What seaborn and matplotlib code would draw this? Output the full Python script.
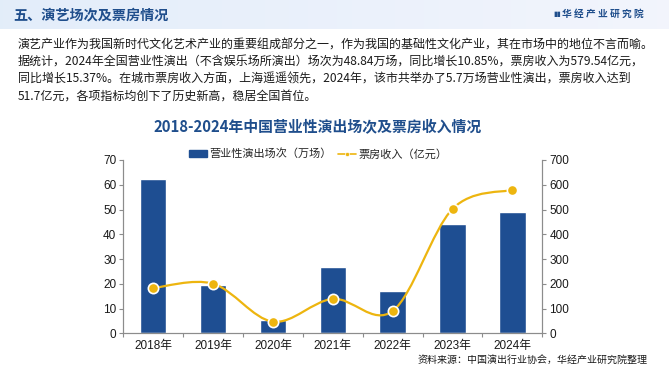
import numpy as np
import pandas as pd
import matplotlib
matplotlib.use("Agg")
import matplotlib.pyplot as plt
from matplotlib.path import Path
from matplotlib.patches import PathPatch, Patch
from matplotlib.lines import Line2D
import seaborn as sns

# ---- data ----
years = ["2018年", "2019年", "2020年", "2021年", "2022年", "2023年", "2024年"]
shows = [62.2, 19.4, 5.4, 26.7, 17.1, 44.06, 48.84]          # 万场
revenue = [183.0, 200.4, 47.0, 139.0, 90.0, 502.3, 579.54]    # 亿元
left_ticks = [0, 10, 20, 30, 40, 50, 60, 70]
right_ticks = [0, 100, 200, 300, 400, 500, 600, 700]

header = "五、演艺场次及票房情况"
logo = "华 经 产 业 研 究 院"
para = [
    "演艺产业作为我国新时代文化艺术产业的重要组成部分之一，作为我国的基础性文化产业，其在市场中的地位不言而喻。",
    "据统计，2024年全国营业性演出（不含娱乐场所演出）场次为48.84万场，同比增长10.85%，票房收入为579.54亿元，",
    "同比增长15.37%。在城市票房收入方面，上海遥遥领先，2024年，该市共举办了5.7万场营业性演出，票房收入达到",
    "51.7亿元，各项指标均创下了历史新高，稳居全国首位。",
]
title = "2018-2024年中国营业性演出场次及票房收入情况"
bar_label = "营业性演出场次（万场）"
line_label = "票房收入（亿元）"
source = "资料来源：中国演出行业协会，华经产业研究院整理"

BLUE = "#1E4E92"
GOLD = "#EDB50F"
DARK = "#1F4E8C"

sns.set_theme(style="white")
plt.rcParams["font.family"] = ["Noto Sans CJK SC", "DejaVu Sans"]
num_font = ["Liberation Sans", "Noto Sans CJK SC"]

W, H = 669, 368
fig = plt.figure(figsize=(W / 100, H / 100), dpi=100)
fig.patch.set_facecolor("white")

# header band
hax = fig.add_axes([0, 1 - 29 / H, 1, 29 / H])
grad = np.linspace(0, 1, 256)[None, :]
c0 = np.array([0.89, 0.93, 0.98])
c1 = np.array([0.95, 0.96, 0.99])
img = c0[None, None, :] * (1 - grad[..., None]) + c1[None, None, :] * grad[..., None]
hax.imshow(img, aspect="auto", extent=[0, 1, 0, 1])
hax.set_axis_off()
fig.text(13 / W, 1 - 15 / H, header, fontsize=10.2, fontweight="bold", color=DARK,
         va="center", ha="left")
fig.text(562 / W, 1 - 14 / H, logo, fontsize=7, fontweight="bold", color=DARK,
         va="center", ha="left")
fig.text(553 / W, 1 - 14 / H, "▮▮", fontsize=5, color=DARK, va="center", ha="left",
         family=["DejaVu Sans"])

# paragraph
for i, line in enumerate(para):
    fig.text(18 / W, 1 - (45 + i * 17) / H, line, fontsize=8.65, color="#1a1a1a",
             va="center", ha="left")

# chart title
fig.text(318 / W, 1 - 127 / H, title, fontsize=10.7, fontweight="bold", color=DARK,
         ha="center", va="center")

# axes
ax = fig.add_axes([123.3 / W, 1 - 333.3 / H, (542.3 - 123.3) / W, (333.3 - 160) / H])
df = pd.DataFrame({"year": years, "shows": shows, "revenue": revenue})
sns.barplot(data=df, x="year", y="shows", ax=ax, color=BLUE, width=0.44,
            saturation=1)
ax.set_xlim(-0.5, len(years) - 0.5)
ax.set_ylim(0, 70)
ax.set_yticks(left_ticks)
ax.set_xlabel("")
ax.set_ylabel("")
ax.set_facecolor("none")

ax2 = ax.twinx()
ax2.set_ylim(0, 700)
ax2.set_yticks(right_ticks)

# smooth line (Catmull-Rom bezier through the data points)
xs = np.arange(len(revenue), dtype=float)
ys = np.array(revenue, dtype=float)
pts = np.column_stack([xs, ys])
verts = [tuple(pts[0])]
codes = [Path.MOVETO]
for i in range(len(pts) - 1):
    p0 = pts[i - 1] if i > 0 else pts[i]
    p1 = pts[i]
    p2 = pts[i + 1]
    p3 = pts[i + 2] if i + 2 < len(pts) else pts[i + 1]
    c1p = p1 + (p2 - p0) / 6.0
    c2p = p2 - (p3 - p1) / 6.0
    verts += [tuple(c1p), tuple(c2p), tuple(p2)]
    codes += [Path.CURVE4] * 3
ax2.add_patch(PathPatch(Path(verts, codes), facecolor="none", edgecolor=GOLD, lw=1.6,
                        zorder=3))
sns.scatterplot(x=xs, y=ys, ax=ax2, color=GOLD, s=55, edgecolor="white", linewidth=1.2,
                zorder=4, legend=False)

# styling
for a in (ax, ax2):
    a.spines["top"].set_visible(False)
    for s in ("left", "right", "bottom"):
        a.spines[s].set_color("#8c8c8c")
        a.spines[s].set_linewidth(0.8)
ax.tick_params(axis="y", which="both", direction="out", length=3, width=0.8,
               color="#8c8c8c", labelsize=8.5, pad=2, left=True)
ax2.tick_params(axis="y", which="both", direction="out", length=3, width=0.8,
                color="#8c8c8c", labelsize=8.5, pad=2, right=True)
ax.set_xticks(np.arange(len(years)))
ax.set_xticklabels(years)
ax.tick_params(axis="x", length=0, labelsize=8.5, pad=5)
ax.set_xticks(np.arange(len(years) + 1) - 0.5, minor=True)
ax.tick_params(axis="x", which="minor", direction="out", length=3, width=0.8,
               color="#8c8c8c", bottom=True)
for lab in ax.get_xticklabels() + ax.get_yticklabels() + ax2.get_yticklabels():
    lab.set_family(num_font)
    lab.set_color("#1a1a1a")
ax2.set_ylabel("")
ax.grid(False)
ax2.grid(False)

handles = [Patch(facecolor=BLUE, edgecolor=BLUE),
           Line2D([0], [0], color=GOLD, lw=1.2, marker="o", markersize=3,
                  markerfacecolor=GOLD, markeredgecolor="white", markeredgewidth=0.5)]
fig.legend(handles, [bar_label, line_label], loc="center",
           bbox_to_anchor=(318 / W, 1 - 154 / H), ncol=2, frameon=False,
           fontsize=8, handlelength=1.6, handleheight=0.7, handletextpad=0.2,
           columnspacing=0.6, borderpad=0)

fig.text(648 / W, 1 - 360 / H, source, fontsize=7.2, color="#1a1a1a",
         ha="right", va="center")

fig.savefig("out.png", dpi=100)
